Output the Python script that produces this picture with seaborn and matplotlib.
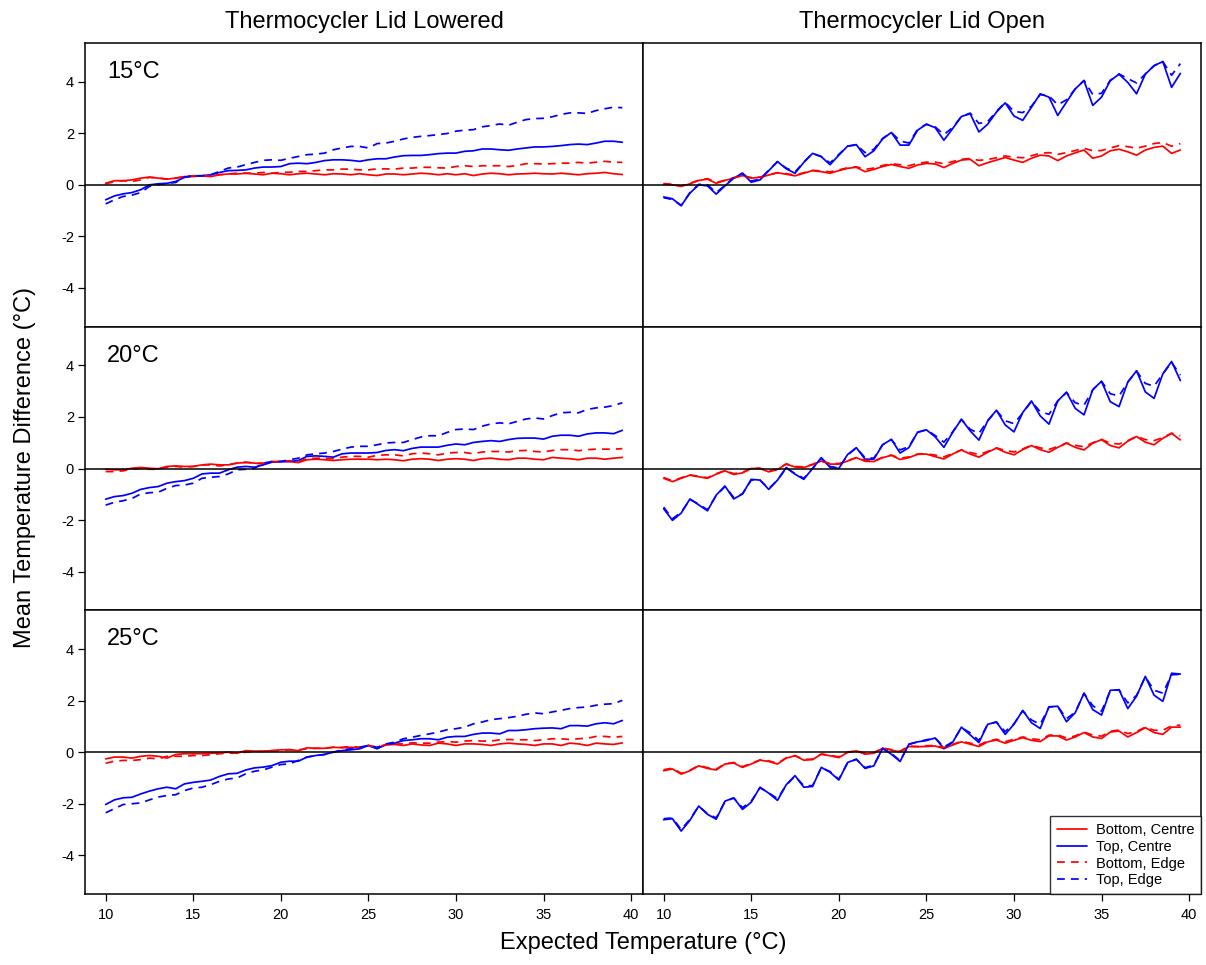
import numpy as np
import matplotlib
matplotlib.use("Agg")
import matplotlib.pyplot as plt
from matplotlib.lines import Line2D
import seaborn as sns

# expected temperature grid (0.5 degree steps)
temps = np.arange(10, 40, 0.5)

# --- Lid lowered, 15C ---
low15_bc = [0.06,0.16,0.16,0.19,0.26,0.30,0.26,0.22,0.26,0.32, 0.32,0.35,0.32,0.39,0.42,0.42,0.45,0.42,0.39,0.45,
            0.43,0.39,0.43,0.45,0.42,0.39,0.43,0.42,0.39,0.43, 0.39,0.36,0.42,0.42,0.39,0.42,0.45,0.43,0.39,0.43,
            0.39,0.43,0.36,0.42,0.45,0.43,0.39,0.42,0.43,0.45, 0.43,0.42,0.45,0.42,0.39,0.43,0.45,0.48,0.43,0.40]
low15_tc = [-0.58,-0.43,-0.35,-0.30,-0.19,0.00,0.04,0.06,0.13,0.29, 0.35,0.35,0.39,0.48,0.55,0.56,0.58,0.65,0.69,0.69,
            0.71,0.82,0.84,0.82,0.87,0.94,0.97,0.97,0.95,0.91, 0.97,1.01,1.01,1.08,1.13,1.14,1.14,1.17,1.21,1.23,
            1.23,1.30,1.32,1.39,1.39,1.36,1.34,1.39,1.43,1.47, 1.47,1.49,1.52,1.56,1.58,1.56,1.62,1.69,1.69,1.65]
low15_be = [0.04,0.13,0.16,0.13,0.19,0.29,0.26,0.23,0.26,0.32, 0.35,0.35,0.35,0.39,0.43,0.45,0.45,0.45,0.48,0.45,
            0.48,0.49,0.52,0.52,0.55,0.58,0.58,0.61,0.61,0.58, 0.58,0.62,0.62,0.61,0.65,0.65,0.68,0.68,0.66,0.65,
            0.71,0.74,0.71,0.74,0.74,0.74,0.71,0.75,0.82,0.82, 0.81,0.82,0.84,0.84,0.87,0.84,0.88,0.91,0.88,0.87]
low15_te = [-0.74,-0.58,-0.45,-0.40,-0.30,-0.06,0.00,0.06,0.09,0.30, 0.35,0.35,0.39,0.52,0.65,0.69,0.78,0.87,0.95,0.97,
            0.95,1.03,1.10,1.17,1.19,1.23,1.36,1.43,1.49,1.49, 1.43,1.60,1.62,1.69,1.78,1.84,1.88,1.91,1.95,1.99,
            2.08,2.12,2.14,2.25,2.30,2.36,2.31,2.43,2.53,2.57, 2.58,2.64,2.73,2.79,2.79,2.77,2.88,2.95,3.01,2.99]

# --- Lid lowered, 20C ---
low20_bc = [-0.03,-0.05,-0.05,0.01,0.04,0.01,-0.01,0.08,0.10,0.08, 0.08,0.14,0.17,0.14,0.14,0.21,0.23,0.21,0.17,0.25,
            0.27,0.27,0.23,0.34,0.36,0.34,0.31,0.34,0.36,0.36, 0.36,0.34,0.36,0.34,0.30,0.36,0.38,0.36,0.31,0.36,
            0.38,0.36,0.31,0.38,0.40,0.36,0.34,0.40,0.40,0.36, 0.34,0.43,0.40,0.38,0.34,0.40,0.40,0.36,0.40,0.43]
low20_tc = [-1.19,-1.09,-1.05,-0.96,-0.81,-0.74,-0.70,-0.57,-0.51,-0.47, -0.38,-0.21,-0.18,-0.18,-0.05,0.05,0.08,0.05,0.14,0.25,
            0.27,0.27,0.31,0.47,0.49,0.47,0.44,0.57,0.60,0.60, 0.60,0.62,0.70,0.73,0.69,0.78,0.83,0.83,0.83,0.90,
            0.95,0.92,1.01,1.05,1.08,1.05,1.12,1.17,1.18,1.18, 1.14,1.25,1.29,1.29,1.25,1.34,1.38,1.38,1.35,1.48]
low20_be = [-0.12,-0.12,-0.09,-0.03,0.01,-0.03,-0.03,0.05,0.08,0.05, 0.08,0.14,0.14,0.10,0.14,0.21,0.25,0.21,0.21,0.27,
            0.27,0.30,0.27,0.38,0.40,0.40,0.38,0.44,0.47,0.47, 0.44,0.51,0.53,0.53,0.49,0.57,0.60,0.57,0.53,0.60,
            0.62,0.62,0.57,0.64,0.66,0.66,0.64,0.69,0.70,0.66, 0.64,0.70,0.73,0.73,0.69,0.73,0.75,0.75,0.75,0.77]
low20_te = [-1.42,-1.31,-1.25,-1.16,-0.99,-0.94,-0.92,-0.77,-0.66,-0.64, -0.57,-0.38,-0.34,-0.31,-0.21,-0.05,-0.03,0.01,0.21,0.27,
            0.27,0.34,0.40,0.53,0.57,0.60,0.66,0.75,0.83,0.86, 0.86,0.92,0.99,1.01,1.01,1.12,1.22,1.27,1.27,1.40,
            1.51,1.53,1.51,1.64,1.73,1.77,1.73,1.83,1.92,1.96, 1.92,2.05,2.16,2.18,2.16,2.29,2.35,2.38,2.44,2.55]

# --- Lid lowered, 25C ---
low25_bc = [-0.26,-0.19,-0.19,-0.23,-0.16,-0.13,-0.16,-0.23,-0.09,-0.06, -0.06,-0.06,-0.04,-0.03,0.00,-0.04,0.06,0.04,0.04,0.06,
            0.09,0.10,0.06,0.17,0.15,0.15,0.19,0.17,0.19,0.17, 0.26,0.15,0.28,0.30,0.26,0.32,0.28,0.26,0.35,0.32,
            0.26,0.32,0.32,0.30,0.26,0.32,0.35,0.32,0.30,0.26, 0.32,0.32,0.26,0.35,0.32,0.26,0.35,0.32,0.30,0.36]
low25_tc = [-2.03,-1.85,-1.77,-1.75,-1.62,-1.51,-1.42,-1.36,-1.42,-1.23, -1.17,-1.13,-1.08,-0.94,-0.84,-0.82,-0.69,-0.61,-0.58,-0.52,
            -0.39,-0.35,-0.35,-0.19,-0.13,-0.09,0.00,0.06,0.09,0.13, 0.26,0.13,0.30,0.35,0.45,0.48,0.52,0.52,0.48,0.58,
            0.61,0.61,0.69,0.74,0.74,0.71,0.84,0.84,0.87,0.91, 0.93,0.94,0.91,1.03,1.03,1.01,1.10,1.14,1.10,1.23]
low25_be = [-0.43,-0.35,-0.32,-0.32,-0.29,-0.23,-0.26,-0.16,-0.16,-0.16, -0.13,-0.13,-0.10,-0.06,-0.04,-0.04,0.00,0.03,0.03,0.06,
            0.06,0.09,0.09,0.13,0.15,0.15,0.19,0.19,0.22,0.19, 0.26,0.19,0.30,0.32,0.32,0.36,0.35,0.35,0.39,0.41,
            0.39,0.43,0.45,0.43,0.43,0.48,0.49,0.48,0.48,0.45, 0.48,0.52,0.52,0.49,0.52,0.54,0.61,0.61,0.58,0.61]
low25_te = [-2.35,-2.19,-2.03,-2.00,-1.97,-1.85,-1.74,-1.68,-1.65,-1.49, -1.39,-1.36,-1.26,-1.13,-1.04,-1.00,-0.84,-0.74,-0.69,-0.58,
            -0.48,-0.45,-0.32,-0.19,-0.13,-0.09,0.00,0.09,0.13,0.19, 0.26,0.19,0.32,0.39,0.52,0.58,0.65,0.71,0.78,0.87,
            0.91,0.97,1.10,1.17,1.26,1.30,1.34,1.39,1.47,1.52, 1.49,1.56,1.62,1.69,1.73,1.75,1.82,1.86,1.88,2.01]

# --- Lid open, 15C ---
open15_bc = [0.03,0.00,-0.06,0.04,0.17,0.22,0.06,0.17,0.26,0.36, 0.26,0.29,0.38,0.47,0.41,0.35,0.45,0.55,0.51,0.45,
             0.55,0.64,0.68,0.51,0.60,0.71,0.79,0.71,0.64,0.77, 0.83,0.81,0.67,0.83,0.96,0.99,0.74,0.86,0.96,1.06,
             0.96,0.87,1.03,1.15,1.12,0.94,1.12,1.24,1.35,1.03, 1.12,1.32,1.38,1.28,1.15,1.35,1.45,1.50,1.22,1.35]
open15_tc = [-0.47,-0.54,-0.81,-0.32,0.00,-0.04,-0.36,-0.04,0.26,0.45, 0.10,0.19,0.55,0.90,0.62,0.45,0.87,1.22,1.09,0.78,
             1.15,1.50,1.56,1.09,1.32,1.78,2.03,1.54,1.54,2.12, 2.35,2.22,1.73,2.18,2.65,2.76,2.05,2.35,2.82,3.18,
             2.67,2.50,3.01,3.53,3.40,2.69,3.21,3.72,4.04,3.08, 3.40,4.04,4.29,3.97,3.53,4.29,4.62,4.78,3.78,4.32]
open15_be = [0.05,0.02,-0.04,0.06,0.18,0.24,0.09,0.18,0.27,0.36, 0.28,0.30,0.39,0.47,0.43,0.38,0.47,0.56,0.54,0.50,
             0.58,0.66,0.70,0.60,0.65,0.75,0.82,0.78,0.74,0.83, 0.88,0.88,0.82,0.90,0.99,1.02,0.95,0.98,1.05,1.12,
             1.07,1.05,1.13,1.22,1.25,1.18,1.25,1.33,1.42,1.32, 1.33,1.43,1.52,1.48,1.42,1.50,1.60,1.64,1.50,1.60]
open15_te = [-0.50,-0.57,-0.80,-0.30,0.02,0.00,-0.30,-0.02,0.28,0.45, 0.15,0.22,0.57,0.90,0.65,0.50,0.88,1.22,1.10,0.85,
             1.18,1.50,1.55,1.25,1.38,1.80,2.03,1.70,1.62,2.15, 2.35,2.25,1.95,2.22,2.65,2.78,2.38,2.45,2.85,3.20,
             2.85,2.80,3.05,3.50,3.45,3.10,3.30,3.72,4.05,3.50, 3.55,4.05,4.30,4.12,3.95,4.30,4.62,4.78,4.25,4.70]

# --- Lid open, 20C ---
open20_bc = [-0.38,-0.51,-0.38,-0.26,-0.32,-0.38,-0.22,-0.09,-0.23,-0.17, 0.00,0.00,-0.13,-0.04,0.17,0.06,0.04,0.15,0.29,0.17,
             0.17,0.29,0.42,0.28,0.27,0.42,0.51,0.35,0.42,0.55, 0.56,0.46,0.37,0.56,0.72,0.56,0.44,0.63,0.79,0.63,
             0.53,0.73,0.89,0.73,0.63,0.82,0.98,0.82,0.72,0.98, 1.12,0.89,0.80,1.06,1.24,1.02,0.92,1.17,1.36,1.11]
open20_tc = [-1.56,-2.01,-1.73,-1.18,-1.41,-1.64,-1.03,-0.68,-1.18,-0.99, -0.42,-0.45,-0.81,-0.45,0.04,-0.22,-0.42,0.00,0.42,0.04,
             0.00,0.54,0.81,0.36,0.36,0.92,1.13,0.60,0.81,1.41, 1.50,1.23,0.82,1.40,1.91,1.46,1.10,1.85,2.26,1.69,
             1.42,2.17,2.62,2.04,1.72,2.62,2.96,2.33,2.08,3.06, 3.38,2.59,2.40,3.35,3.79,2.97,2.72,3.67,4.15,3.41]
open20_be = [-0.35,-0.48,-0.36,-0.25,-0.30,-0.36,-0.20,-0.08,-0.20,-0.15, 0.01,0.01,-0.10,-0.02,0.18,0.08,0.06,0.16,0.29,0.20,
             0.19,0.30,0.42,0.32,0.30,0.43,0.52,0.40,0.45,0.56, 0.57,0.52,0.45,0.58,0.72,0.62,0.54,0.66,0.80,0.70,
             0.64,0.76,0.90,0.80,0.74,0.85,0.99,0.90,0.84,1.00, 1.13,0.98,0.95,1.08,1.25,1.12,1.08,1.20,1.37,1.27]
open20_te = [-1.50,-1.95,-1.70,-1.20,-1.38,-1.60,-1.05,-0.70,-1.12,-0.98, -0.45,-0.45,-0.78,-0.45,0.02,-0.20,-0.38,0.00,0.40,0.08,
             0.02,0.52,0.80,0.42,0.40,0.92,1.12,0.72,0.85,1.40, 1.50,1.28,1.02,1.42,1.90,1.52,1.36,1.85,2.25,1.85,
             1.74,2.15,2.60,2.20,2.10,2.62,2.95,2.55,2.45,3.05, 3.38,2.90,2.81,3.35,3.78,3.30,3.19,3.67,4.12,3.62]

# --- Lid open, 25C ---
open25_bc = [-0.72,-0.65,-0.85,-0.72,-0.53,-0.63,-0.69,-0.46,-0.42,-0.59, -0.46,-0.31,-0.36,-0.46,-0.23,-0.14,-0.31,-0.29,-0.08,-0.14,
             -0.21,-0.01,0.05,-0.08,-0.04,0.15,0.08,0.01,0.22,0.21, 0.22,0.24,0.14,0.28,0.40,0.31,0.22,0.40,0.47,0.35,
             0.46,0.56,0.46,0.41,0.63,0.63,0.47,0.59,0.76,0.59, 0.53,0.78,0.82,0.59,0.76,0.95,0.76,0.69,0.97,0.97]
open25_tc = [-2.62,-2.58,-3.06,-2.64,-2.09,-2.41,-2.60,-1.90,-1.77,-2.22, -1.94,-1.36,-1.59,-1.87,-1.26,-0.91,-1.36,-1.33,-0.59,-0.78,
             -1.08,-0.40,-0.27,-0.63,-0.53,0.15,-0.08,-0.36,0.31,0.40, 0.45,0.55,0.14,0.38,0.97,0.67,0.37,1.08,1.17,0.69,
             1.08,1.62,1.14,0.92,1.76,1.78,1.18,1.53,2.29,1.65, 1.44,2.40,2.42,1.69,2.17,2.94,2.21,1.97,3.06,3.03]
open25_be = [-0.68,-0.62,-0.82,-0.70,-0.52,-0.60,-0.66,-0.45,-0.40,-0.56, -0.44,-0.30,-0.34,-0.43,-0.22,-0.13,-0.28,-0.27,-0.07,-0.12,
             -0.18,0.00,0.06,-0.05,-0.02,0.16,0.10,0.04,0.23,0.22, 0.25,0.26,0.18,0.30,0.42,0.35,0.28,0.43,0.50,0.41,
             0.50,0.59,0.52,0.48,0.66,0.67,0.55,0.63,0.78,0.66, 0.62,0.81,0.86,0.72,0.80,0.97,0.85,0.85,1.02,1.05]
open25_te = [-2.58,-2.55,-3.00,-2.60,-2.10,-2.38,-2.55,-1.92,-1.78,-2.15, -1.90,-1.38,-1.58,-1.80,-1.28,-0.93,-1.30,-1.30,-0.60,-0.75,
             -1.05,-0.42,-0.28,-0.60,-0.50,0.14,-0.05,-0.33,0.30,0.40, 0.48,0.55,0.20,0.40,0.95,0.75,0.45,1.08,1.17,0.80,
             1.10,1.60,1.25,1.08,1.75,1.78,1.30,1.55,2.28,1.80, 1.59,2.38,2.42,1.91,2.20,2.92,2.40,2.29,3.00,3.02]

col_titles = ["Thermocycler Lid Lowered", "Thermocycler Lid Open"]
row_labels = ["15°C", "20°C", "25°C"]
series_names = ["Bottom, Centre", "Top, Centre", "Bottom, Edge", "Top, Edge"]
series_colors = ["#FF0000", "#0000FF", "#FF0000", "#0000FF"]
series_dash = ["-", "-", (0, (4.5, 3.5)), (0, (4.5, 3.5))]

panels = [
    [(low15_bc, low15_tc, low15_be, low15_te), (open15_bc, open15_tc, open15_be, open15_te)],
    [(low20_bc, low20_tc, low20_be, low20_te), (open20_bc, open20_tc, open20_be, open20_te)],
    [(low25_bc, low25_tc, low25_be, low25_te), (open25_bc, open25_tc, open25_be, open25_te)],
]

sns.set_theme(style="white")
plt.rcParams["font.family"] = ["Liberation Sans", "DejaVu Sans"]
plt.rcParams["text.color"] = "black"
plt.rcParams["xtick.color"] = "black"
plt.rcParams["ytick.color"] = "black"
plt.rcParams["axes.unicode_minus"] = False

W, H = 1206, 965
fig = plt.figure(figsize=(W / 100, H / 100), dpi=100)

left_px, col_w = 85, 558
top_px, bot_px = 43, 894
row_h = (bot_px - top_px) / 3

for r in range(3):
    for c in range(2):
        x0 = (left_px + c * col_w) / W
        y0 = 1 - (top_px + (r + 1) * row_h) / H
        ax = fig.add_axes([x0, y0, col_w / W, row_h / H])
        for vals, name, col, ls in zip(panels[r][c], series_names, series_colors, series_dash):
            sns.lineplot(x=temps, y=vals, ax=ax, color=col, linestyle=ls,
                         linewidth=1.25, estimator=None, sort=False)
        ax.axhline(0, color="black", linewidth=1.1)
        ax.set_xlim(8.82, 40.68)
        ax.set_ylim(-5.5, 5.5)
        for s in ax.spines.values():
            s.set_color("black")
            s.set_linewidth(1.1)
        ax.tick_params(axis="both", direction="out", length=5, width=0.9,
                       colors="black", labelsize=10.5, pad=3)
        ax.set_yticks([-4, -2, 0, 2, 4])
        ax.set_xticks([10, 15, 20, 25, 30, 35, 40])
        if c == 0:
            ax.tick_params(axis="y", left=True, labelleft=True)
            ax.text(0.04, 0.898, row_labels[r], transform=ax.transAxes,
                    fontsize=17, ha="left", va="center", color="black")
        else:
            ax.tick_params(axis="y", left=False, labelleft=False)
        if r == 2:
            ax.tick_params(axis="x", bottom=True, labelbottom=True, pad=5)
        else:
            ax.tick_params(axis="x", bottom=False, labelbottom=False)
        ax.set_xlabel("")
        ax.set_ylabel("")
        if r == 2 and c == 1:
            handles = [Line2D([0], [0], color=col, linestyle=ls, linewidth=1.25)
                       for col, ls in zip(series_colors, series_dash)]
            leg = ax.legend(handles, series_names, loc="lower right", fontsize=10.5,
                            frameon=True, fancybox=False, borderaxespad=0,
                            handlelength=2.1, labelspacing=0.2, borderpad=0.45,
                            handletextpad=0.6)
            leg.get_frame().set_edgecolor("black")
            leg.get_frame().set_linewidth(1.0)
            for t in leg.get_texts():
                t.set_color("black")

for c in range(2):
    fig.text((left_px + c * col_w + col_w / 2) / W, 1 - 22 / H, col_titles[c],
             ha="center", va="center", fontsize=17, color="black")
fig.text(25 / W, 1 - 468 / H, "Mean Temperature Difference (°C)", rotation=90,
         ha="center", va="center", fontsize=17, color="black")
fig.text(643 / W, 1 - 943 / H, "Expected Temperature (°C)",
         ha="center", va="center", fontsize=17, color="black")

fig.savefig("out.png", dpi=100)
